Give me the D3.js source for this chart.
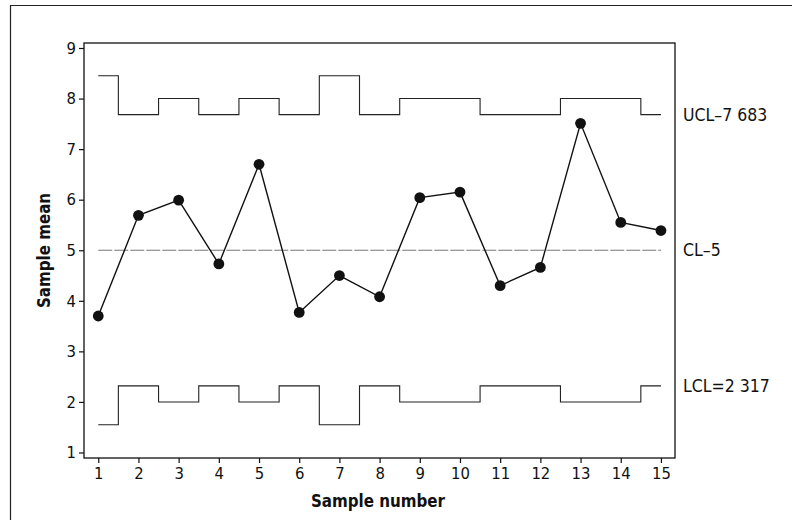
<!DOCTYPE html>
<html><head><meta charset="utf-8">
<script src="https://cdn.jsdelivr.net/npm/d3@7"></script>
<style>body{margin:0;background:#fff}svg{display:block}</style>
</head><body>
<svg id="c" width="792" height="529"></svg>
<script>
const samples = [1,2,3,4,5,6,7,8,9,10,11,12,13,14,15];
const means = [3.70, 5.69, 5.99, 4.73, 6.70, 3.77, 4.50, 4.08, 6.04, 6.15, 4.30, 4.66, 7.51, 5.55, 5.39];
const ucl = [8.45, 7.683, 8, 7.683, 8, 7.683, 8.45, 7.683, 8, 8, 7.683, 7.683, 8, 8, 7.683];
const lcl = [1.55, 2.317, 2, 2.317, 2, 2.317, 1.55, 2.317, 2, 2, 2.317, 2.317, 2, 2, 2.317];
const centerLine = 5;
const yTicks = [1,2,3,4,5,6,7,8,9];
const limitLabels = [
  {text: "UCL\u20137 683", v: 7.683},
  {text: "CL\u20135", v: 5},
  {text: "LCL=2 317", v: 2.317}
];

const svg = d3.select("#c");
const L = 84, R = 675, T = 43, B = 458;
const x = d3.scaleLinear().domain([0.645, 15.35]).range([L, R]);
const y = d3.scaleLinear().domain([0.891, 9.099]).range([B, T]);
const font = "'DejaVu Sans Condensed', 'DejaVu Sans', sans-serif";

// outer border (top & left)
svg.append("path").attr("d", `M10.5,520 V5.5 H792`).attr("fill","none").attr("stroke","#222").attr("stroke-width",1.2);

// plot frame
svg.append("rect").attr("x", L).attr("y", T).attr("width", R-L).attr("height", B-T)
  .attr("fill","none").attr("stroke","#111").attr("stroke-width",1.3);

// axes
const xAxis = d3.axisBottom(x).tickValues(samples).tickSize(5).tickSizeOuter(0).tickPadding(4);
const gx = svg.append("g").attr("transform", `translate(0,${B})`).call(xAxis);
const yAxis = d3.axisLeft(y).tickValues(yTicks).tickSize(5).tickSizeOuter(0).tickPadding(3);
const gy = svg.append("g").attr("transform", `translate(${L},0)`).call(yAxis);
[gx, gy].forEach(g => {
  g.select(".domain").remove();
  g.selectAll("line").attr("stroke","#111").attr("stroke-width",1.2);
  g.selectAll("text").attr("font-family", font).attr("font-size", 16.5).attr("fill","#111");
});

// center line
svg.append("line").attr("x1", x(1)).attr("x2", x(15)).attr("y1", y(centerLine)).attr("y2", y(centerLine))
  .attr("stroke","#777").attr("stroke-width",1).attr("stroke-dasharray","14,2");

// limits
const step = d3.line().x((d,i)=>x(samples[i])).y(d=>y(d)).curve(d3.curveStep);
svg.append("path").attr("d", step(ucl)).attr("fill","none").attr("stroke","#222").attr("stroke-width",1.1);
svg.append("path").attr("d", step(lcl)).attr("fill","none").attr("stroke","#222").attr("stroke-width",1.1);

// data
const line = d3.line().x((d,i)=>x(samples[i])).y(d=>y(d));
svg.append("path").attr("d", line(means)).attr("fill","none").attr("stroke","#111").attr("stroke-width",1.4);
svg.selectAll("circle.pt").data(means).enter().append("circle")
  .attr("cx",(d,i)=>x(samples[i])).attr("cy", d=>y(d)).attr("r",5.4).attr("fill","#111");

// limit labels
svg.selectAll("text.lim").data(limitLabels).enter().append("text")
  .attr("x", 683).attr("y", d=>y(d.v)).attr("dy","0.35em")
  .attr("font-family", font).attr("font-size", 17.5).attr("fill","#111").text(d=>d.text);

// axis titles
svg.append("text").attr("x", 378).attr("y", 507).attr("text-anchor","middle")
  .attr("font-family", font).attr("font-weight","bold").attr("font-size",16.8).attr("fill","#111").text("Sample number");
svg.append("text").attr("transform", `translate(50,${(T+B)/2}) rotate(-90)`).attr("text-anchor","middle")
  .attr("font-family", font).attr("font-weight","bold").attr("font-size",16.8).attr("fill","#111").text("Sample mean");
</script>
</body></html>
